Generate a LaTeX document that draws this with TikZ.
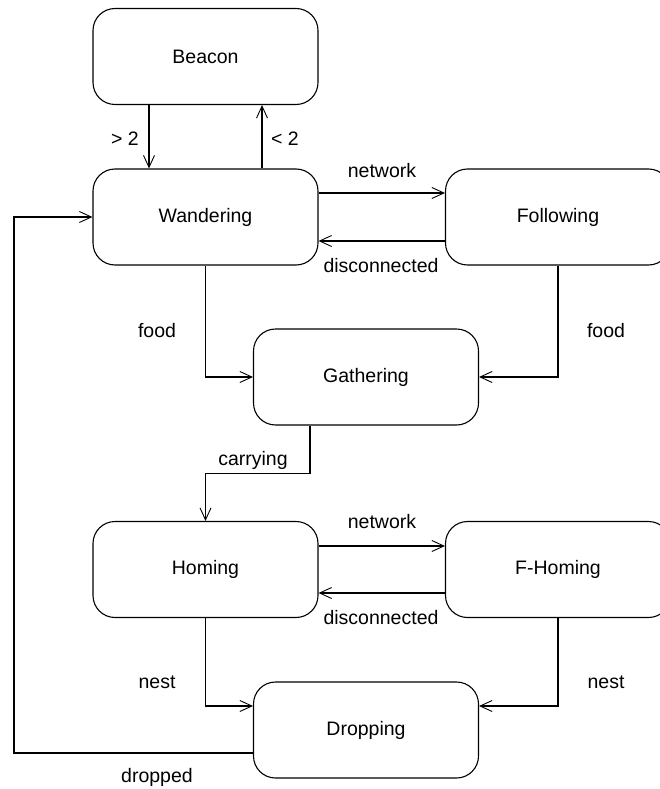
\documentclass[tikz,border=0pt]{standalone}
\usepackage{fontspec}
\setmainfont{Liberation Sans}
\usetikzlibrary{arrows.meta}

\tikzset{
  stbox/.style={rectangle,draw,rounded corners=22pt,minimum width=225pt,minimum height=96pt},
  lbl/.style={anchor=base,inner sep=0pt},
}

\begin{document}
\begin{tikzpicture}[x=1pt,y=-1pt,line width=1.1pt,>={Straight Barb[length=12pt,width=11pt,line width=0.9pt]},font=\fontsize{19.5}{23}\selectfont]
        \useasboundingbox (0,0) rectangle (660,789);

        % 状态
        \node[stbox] (beacon) at (205.5,56.5) {Beacon};
        \node[stbox] (wand) at (205.5,217) {Wandering};
        \node[stbox] (foll) at (558,217) {Following};
        \node[stbox] (gath) at (366,377) {Gathering};
        \node[stbox] (hom) at (205.5,569.5) {Homing};
        \node[stbox] (fhom) at (558,569.5) {F-Homing};
        \node[stbox] (drop) at (366,730) {Dropping};
        \coordinate (ret) at (14,0);

        % 转移
        \draw[->] ([xshift=-56.5pt]beacon.south) -- ([xshift=-56.5pt]wand.north);
        \draw[->] ([xshift=56.5pt]wand.north) -- ([xshift=56.5pt]beacon.south);
        \draw[->] ([yshift=24pt]wand.east) -- ([yshift=24pt]foll.west);
        \draw[->] ([yshift=-24pt]foll.west) -- ([yshift=-24pt]wand.east);
        \draw[->] (wand.south) |- (gath.west);
        \draw[->] (foll.south) |- (gath.east);
        \draw[->] ([xshift=-56pt]gath.south) -- ++(0,48) -| (hom.north);
        \draw[->] ([yshift=23.5pt]hom.east) -- ([yshift=23.5pt]fhom.west);
        \draw[->] ([yshift=-23.5pt]fhom.west) -- ([yshift=-23.5pt]hom.east);
        \draw[->] (hom.south) |- ([yshift=24pt]drop.west);
        \draw[->] (fhom.south) |- ([yshift=24pt]drop.east);
        \draw[->] ([yshift=-23pt]drop.west) -| (ret |- wand.west) -- (wand.west);

        % 标签
        \node[lbl] (lgt) at (125,145) {> 2};
        \node[lbl] (llt) at (285,145) {< 2};
        \node[lbl] (lnet1) at (382,177) {network};
        \node[lbl] (ldis1) at (381,272) {disconnected};
        \node[lbl] (lfood1) at (157,337) {food};
        \node[lbl] (lfood2) at (606,337) {food};
        \node[lbl] (lcarry) at (253,465) {carrying};
        \node[lbl] (lnet2) at (382,528) {network};
        \node[lbl] (ldis2) at (381,624) {disconnected};
        \node[lbl] (lnest1) at (157,688) {nest};
        \node[lbl] (lnest2) at (606,688) {nest};
        \node[lbl] (ldrop) at (157,782) {dropped};
    \end{tikzpicture}
\end{document}
